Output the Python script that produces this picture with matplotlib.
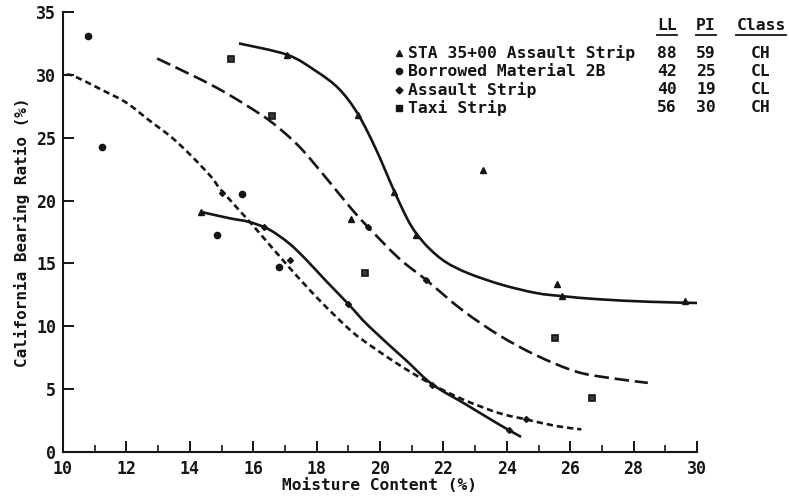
import matplotlib
matplotlib.use("Agg")
import matplotlib.pyplot as plt
from matplotlib.lines import Line2D
from matplotlib.path import Path
from matplotlib.patches import PathPatch

# ---------------- data ----------------
# fitted curves
sta_curve_x = [15.55, 17.07, 17.98, 18.7, 19.3, 19.87, 20.44, 20.85, 21.14, 21.55, 22.08, 22.8, 23.85, 24.92, 25.74, 26.9, 28.5, 30.1]
sta_curve_y = [32.5, 31.6, 30.3, 28.9, 26.9, 24.1, 20.8, 18.6, 17.4, 16.2, 15.1, 14.2, 13.3, 12.65, 12.4, 12.15, 11.95, 11.85]

taxi_curve_x = [12.97, 13.88, 14.83, 15.77, 16.6, 17.45, 18.3, 19.08, 19.62, 20.6, 21.45, 22.59, 23.75, 24.92, 26.18, 27.22, 28.45]
taxi_curve_y = [31.3, 30.2, 29.0, 27.6, 26.2, 24.3, 21.8, 19.4, 17.9, 15.4, 13.7, 11.3, 9.3, 7.7, 6.4, 5.9, 5.5]

borrow_curve_x = [10.1, 10.35, 11.23, 11.99, 12.71, 13.44, 14.07, 14.67, 15.0, 15.93, 17.13, 18.08, 18.93, 19.43, 20.5, 21.55, 22.6, 23.75, 24.6, 25.55, 26.35]
borrow_curve_y = [30.0, 29.9, 28.8, 27.8, 26.4, 25.0, 23.5, 21.9, 20.8, 18.2, 14.7, 12.1, 10.0, 8.95, 7.1, 5.5, 4.2, 3.1, 2.6, 2.07, 1.8]

assault_curve_x = [14.35, 15.24, 15.87, 16.5, 17.13, 17.67, 18.3, 18.99, 19.65, 20.82, 21.64, 22.7, 23.75, 24.45]
assault_curve_y = [19.1, 18.6, 18.3, 17.7, 16.6, 15.3, 13.6, 11.8, 10.0, 7.3, 5.4, 3.8, 2.2, 1.2]

# measured points
sta_x = [17.07, 19.3, 20.44, 21.14, 23.24, 19.08, 25.58, 25.74, 29.62, 14.35]
sta_y = [31.6, 26.8, 20.7, 17.3, 22.4, 18.5, 13.4, 12.4, 12.0, 19.1]

borrow_x = [10.79, 11.23, 14.86, 15.65, 16.81]
borrow_y = [33.1, 24.3, 17.3, 20.5, 14.7]

assault_x = [15.0, 16.34, 17.16, 18.99, 19.62, 21.45, 21.64, 24.07, 24.6]
assault_y = [20.6, 17.9, 15.3, 11.8, 17.9, 13.7, 5.3, 1.75, 2.6]

taxi_x = [15.3, 16.6, 19.53, 25.52, 26.7]
taxi_y = [31.3, 26.7, 14.2, 9.1, 4.3]

legend_labels = ["STA 35+00 Assault Strip", "Borrowed Material 2B", "Assault Strip", "Taxi Strip"]
legend_ll = ["88", "42", "40", "56"]
legend_pi = ["59", "25", "19", "30"]
legend_class = ["CH", "CL", "CL", "CH"]
legend_markers = ["^", "o", "D", "s"]

x_ticks = list(range(10, 31, 2))
x_minor = list(range(11, 30, 2))
y_ticks = list(range(0, 36, 5))

# ---------------- helpers ----------------
def smooth_path(xs, ys):
    """Catmull-Rom rendering through the read points (drawing style only)."""
    pts = list(zip(xs, ys))
    verts = [pts[0]]
    codes = [Path.MOVETO]
    n = len(pts)
    for i in range(n - 1):
        p0 = pts[i - 1] if i > 0 else pts[i]
        p1 = pts[i]
        p2 = pts[i + 1]
        p3 = pts[i + 2] if i + 2 < n else pts[i + 1]
        c1 = (p1[0] + (p2[0] - p0[0]) / 6, p1[1] + (p2[1] - p0[1]) / 6)
        c2 = (p2[0] - (p3[0] - p1[0]) / 6, p2[1] - (p3[1] - p1[1]) / 6)
        verts += [c1, c2, p2]
        codes += [Path.CURVE4] * 3
    return Path(verts, codes)

# ---------------- figure ----------------
W, H = 789, 504
fig = plt.figure(figsize=(W / 100, H / 100), dpi=100)
ax = fig.add_axes([63 / W, 1 - 452 / H, (697 - 63) / W, (452 - 12) / H])

FONT = "DejaVu Sans Mono"
ink = "#151515"
lw = 1.9

curves = [
    (sta_curve_x, sta_curve_y, "-"),
    (taxi_curve_x, taxi_curve_y, (0, (5.5, 2.2))),
    (borrow_curve_x, borrow_curve_y, (0, (2.4, 1.5))),
    (assault_curve_x, assault_curve_y, "-"),
]
for cx, cy, ls in curves:
    ax.add_patch(PathPatch(smooth_path(cx, cy), fill=False, edgecolor=ink, lw=lw,
                           linestyle=ls, capstyle="butt"))

ax.plot(sta_x, sta_y, "^", color=ink, ms=4, ls="none")
ax.plot(borrow_x, borrow_y, "o", color=ink, ms=4.5, ls="none")
ax.plot(assault_x, assault_y, "D", color=ink, ms=3, ls="none")
ax.plot(taxi_x, taxi_y, "s", ms=5, ls="none", markerfacecolor="#3a3a3a",
        markeredgecolor=ink, markeredgewidth=1.2)

ax.set_xlim(10, 30)
ax.set_ylim(0, 35)
ax.set_xticks(x_ticks)
ax.set_xticks(x_minor, minor=True)
ax.set_yticks(y_ticks)
for s in ["top", "right"]:
    ax.spines[s].set_visible(False)
for s in ["left", "bottom"]:
    ax.spines[s].set_linewidth(1.5)
    ax.spines[s].set_color(ink)
ax.tick_params(axis="both", which="major", direction="in", length=8, width=1.4, color=ink,
               labelsize=12)
ax.tick_params(axis="x", which="major", pad=6)
ax.tick_params(axis="y", which="major", pad=5)
ax.tick_params(axis="x", which="minor", direction="in", length=5, width=1.2, color=ink)
for lab in ax.get_xticklabels() + ax.get_yticklabels():
    lab.set_fontfamily(FONT)
    lab.set_fontweight("bold")
    lab.set_color(ink)

ax.set_xlabel("Moisture Content (%)", fontfamily=FONT, fontweight="bold", fontsize=11.7,
              color=ink, labelpad=0)
ax.set_ylabel("California Bearing Ratio (%)", fontfamily=FONT, fontweight="bold", fontsize=11.5,
              color=ink, labelpad=4)

# ---------------- legend table ----------------
def fy(py):
    return 1 - py / H

def fx(px):
    return px / W

fs = 11.8
hdr_y = 25
row_y = [53, 71, 90, 108]
col_ll, col_pi, col_cl = 667, 706, 761
for txt, cx in [("LL", col_ll), ("PI", col_pi), ("Class", col_cl)]:
    fig.text(fx(cx), fy(hdr_y), txt, ha="center", va="center", fontfamily=FONT,
             fontweight="bold", fontsize=fs, color=ink)
    half = len(txt) * 0.602 * fs * 100 / 72 / 2
    fig.add_artist(Line2D([fx(cx - half), fx(cx + half)], [fy(hdr_y + 10), fy(hdr_y + 10)],
                          color=ink, lw=1.3, transform=fig.transFigure))

msizes = {"^": 4.5, "o": 4.5, "D": 3.5, "s": 5}
for i, lab in enumerate(legend_labels):
    y = fy(row_y[i])
    fig.add_artist(Line2D([fx(399)], [y], marker=legend_markers[i], ms=msizes[legend_markers[i]],
                          color=ink, ls="none", transform=fig.transFigure))
    fig.text(fx(408), y, lab, ha="left", va="center", fontfamily=FONT, fontweight="bold",
             fontsize=fs, color=ink)
    fig.text(fx(col_ll), y, legend_ll[i], ha="center", va="center", fontfamily=FONT,
             fontweight="bold", fontsize=fs, color=ink)
    fig.text(fx(col_pi), y, legend_pi[i], ha="center", va="center", fontfamily=FONT,
             fontweight="bold", fontsize=fs, color=ink)
    fig.text(fx(col_cl), y, legend_class[i], ha="center", va="center", fontfamily=FONT,
             fontweight="bold", fontsize=fs, color=ink)

fig.savefig("out.png", dpi=100)
